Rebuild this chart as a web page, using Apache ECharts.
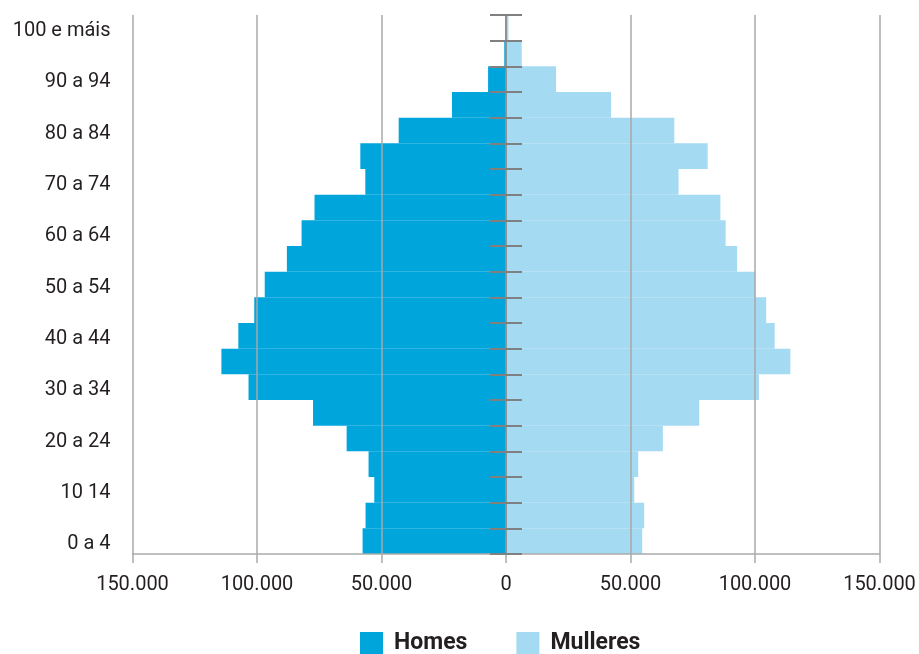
<!DOCTYPE html>
<html>
<head>
<meta charset="utf-8">
<script src="https://cdn.jsdelivr.net/npm/echarts@6/dist/echarts.min.js"></script>
<style>
html,body{margin:0;padding:0;background:#fff;}
#chart{width:919px;height:654px;}
</style>
</head>
<body>
<div id="chart"></div>
<script>
const categories = ["0 a 4","5 a 9","10 14","15 a 19","20 a 24","25 a 29","30 a 34","35 a 39","40 a 44","45 a 49","50 a 54","55 a 59","60 a 64","65 a 69","70 a 74","75 a 79","80 a 84","85 a 89","90 a 94","95 a 99","100 e máis"];
const homes = [57600, 56400, 52900, 55200, 64000, 77500, 103400, 114300, 107500, 101100, 96900, 88000, 82100, 76900, 56500, 58500, 43100, 21700, 7200, 700, 300];
const mulleres = [54700, 55500, 51500, 53100, 63000, 77600, 101600, 114200, 107900, 104500, 100100, 92800, 88200, 86100, 69300, 81000, 67600, 42200, 20100, 6300, 1000];
const xTicks = [-150000, -100000, -50000, 0, 50000, 100000, 150000];

function fmt(v) {
  return String(Math.abs(v)).replace(/\B(?=(\d{3})+(?!\d))/g, '.');
}

const chart = echarts.init(document.getElementById('chart'), null, {renderer: 'canvas'});
const font = 'Roboto, "Liberation Sans", sans-serif';
chart.setOption({
  animation: false,
  textStyle: {fontFamily: font},
  grid: {left: 132.5, right: 39.5, top: 15, bottom: 100, containLabel: false, outerBoundsMode: 'none'},
  legend: {
    left: 360, top: 632, padding: 0,
    itemWidth: 23, itemHeight: 23, itemGap: 49,
    icon: 'rect',
    textStyle: {fontFamily: font, fontSize: 23, fontWeight: 'bold', color: '#231f20', padding: [0, 0, 0, 6]},
    data: ['Homes', 'Mulleres']
  },
  xAxis: [{
    type: 'value',
    min: xTicks[0], max: xTicks[xTicks.length - 1], interval: 50000,
    z: 5,
    axisLine: {show: true, lineStyle: {color: '#aaaaaa', width: 1.5}},
    axisTick: {show: true, length: 9, lineStyle: {color: '#aaaaaa', width: 1.5}},
    splitLine: {show: true, lineStyle: {color: '#a8a8a8', width: 1.5}},
    axisLabel: {formatter: fmt, fontSize: 20, color: '#231f20', margin: 21, fontFamily: font, showMinLabel: true, showMaxLabel: true, hideOverlap: false}
  }, {
    type: 'value',
    show: false,
    min: xTicks[0], max: xTicks[xTicks.length - 1], interval: 50000
  }],
  yAxis: [{
    type: 'category',
    data: categories,
    position: 'left',
    z: 6,
    axisLine: {show: false, onZero: false},
    axisTick: {show: false},
    axisLabel: {
      interval: 1, margin: 22, fontSize: 20, color: '#231f20', fontFamily: font,
      formatter: v => '{a|' + v + '}',
      rich: {a: {fontSize: 20, color: '#231f20', fontFamily: font, padding: [6, 0, 0, 0]}}
    },
    splitLine: {show: false}
  }, {
    type: 'category',
    data: categories,
    position: 'left',
    z: 6,
    axisLine: {show: true, onZero: true, onZeroAxisIndex: 0, lineStyle: {color: '#8a8a8a', width: 1.5}},
    axisTick: {show: true, interval: 0, length: 16, lineStyle: {color: '#808080', width: 2}},
    axisLabel: {show: false},
    splitLine: {show: false}
  }, {
    type: 'category',
    data: categories,
    position: 'right',
    z: 6,
    axisLine: {show: false, onZero: true, onZeroAxisIndex: 1},
    axisTick: {show: true, interval: 0, length: 16, lineStyle: {color: '#808080', width: 2}},
    axisLabel: {show: false},
    splitLine: {show: false}
  }],
  series: [{
    name: 'Homes',
    type: 'bar',
    stack: 'pop',
    xAxisIndex: 0, yAxisIndex: 0,
    barCategoryGap: '0%',
    itemStyle: {color: '#00a5db'},
    data: homes.map(v => -v)
  }, {
    name: 'Mulleres',
    type: 'bar',
    stack: 'pop',
    xAxisIndex: 0, yAxisIndex: 0,
    barCategoryGap: '0%',
    itemStyle: {color: '#a5daf3'},
    data: mulleres
  }]
});
</script>
</body>
</html>
